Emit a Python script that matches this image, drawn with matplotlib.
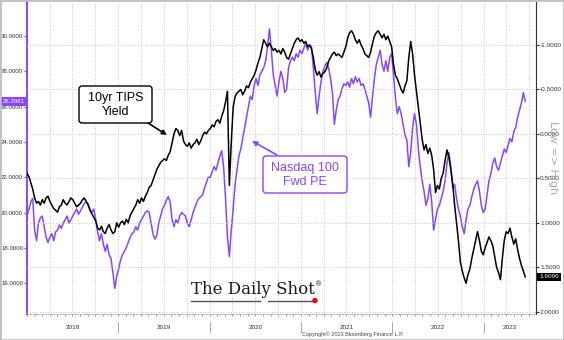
import matplotlib
matplotlib.use('Agg')
import matplotlib.pyplot as plt
import matplotlib.dates as mdates
import matplotlib.transforms as mtransforms
from matplotlib.patches import FancyBboxPatch, Rectangle, Circle, FancyArrowPatch
from matplotlib.lines import Line2D
import numpy as np
import pandas as pd

# ---------------- data (roughly weekly, 4 points per month) ----------------
tips_yield = [
    # 2018
    0.44, 0.48, 0.55, 0.62, 0.72, 0.78, 0.76, 0.80, 0.74, 0.78, 0.72, 0.70,
    0.76, 0.80, 0.84, 0.86, 0.88, 0.82, 0.80, 0.74, 0.78, 0.80, 0.76, 0.72,
    0.74, 0.78, 0.82, 0.80, 0.78, 0.74, 0.72, 0.76, 0.80, 0.86, 0.90, 0.94,
    0.98, 1.06, 1.08, 1.04, 1.10, 1.12, 1.06, 1.02, 1.08, 1.12, 1.10, 1.00,
    # 2019
    1.05, 1.00, 0.98, 1.02, 0.96, 1.00, 0.92, 0.88, 0.84, 0.80, 0.74, 0.78,
    0.72, 0.76, 0.70, 0.66, 0.60, 0.58, 0.52, 0.46, 0.40, 0.36, 0.32, 0.30,
    0.28, 0.30, 0.24, 0.20, 0.10, 0.00, -0.06, -0.04, 0.02, -0.04, 0.08, 0.12,
    0.14, 0.10, 0.16, 0.12, 0.10, 0.06, 0.12, 0.08, 0.02, -0.02, 0.00, -0.04,
    # 2020
    -0.06, -0.10, -0.08, -0.14, -0.16, -0.12, -0.20, -0.26, -0.36, -0.48, 0.58, 0.10,
    -0.30, -0.42, -0.46, -0.48, -0.50, -0.44, -0.48, -0.54, -0.52, -0.58, -0.62, -0.66,
    -0.72, -0.80, -0.86, -0.96, -1.06, -1.02, -0.98, -1.02, -0.98, -0.94, -0.96, -0.92,
    -0.94, -0.90, -0.96, -0.92, -0.86, -0.84, -0.90, -0.96, -1.02, -1.06, -1.08, -1.04,
    # 2021
    -1.06, -1.02, -1.04, -0.98, -1.00, -0.96, -0.86, -0.72, -0.66, -0.70, -0.64, -0.68,
    -0.70, -0.74, -0.82, -0.86, -0.90, -0.92, -0.88, -0.90, -0.88, -0.86, -0.92, -0.98,
    -1.08, -1.14, -1.16, -1.12, -1.06, -1.02, -1.06, -1.00, -0.96, -0.90, -0.88, -0.86,
    -0.92, -1.02, -1.10, -1.14, -1.16, -1.12, -1.08, -1.12, -1.06, -1.10, -1.04, -0.98,
    # 2022
    -0.78, -0.66, -0.62, -0.56, -0.50, -0.46, -0.54, -0.60, -0.86, -1.04, -0.90, -0.66,
    -0.48, -0.30, -0.12, 0.06, 0.18, 0.12, 0.22, 0.16, 0.24, 0.40, 0.66, 0.58,
    0.62, 0.50, 0.44, 0.30, 0.18, 0.26, 0.40, 0.56, 0.80, 1.00, 1.20, 1.44,
    1.54, 1.62, 1.68, 1.58, 1.52, 1.40, 1.30, 1.20, 1.10, 1.20, 1.32, 1.36,
    # 2023
    1.28, 1.22, 1.16, 1.20, 1.26, 1.38, 1.50, 1.56, 1.64, 1.40, 1.20, 1.10,
    1.12, 1.06, 1.16, 1.24, 1.18, 1.30, 1.40, 1.48, 1.54, 1.6096,
]

nasdaq_pe = [
    # 2018
    19.8, 20.2, 20.6, 20.8, 19.0, 18.4, 19.4, 19.7, 19.8, 19.2, 18.6, 18.3,
    18.6, 18.8, 18.4, 18.9, 19.0, 19.3, 19.1, 19.4, 19.6, 19.8, 19.4, 19.6,
    19.8, 20.0, 20.2, 19.9, 20.1, 20.3, 20.5, 20.6, 20.5, 20.2, 20.0, 20.2,
    19.6, 18.9, 18.4, 18.8, 18.2, 17.8, 18.2, 17.6, 17.4, 16.6, 15.7, 16.4,
    # 2019
    16.8, 17.3, 17.6, 17.8, 18.0, 18.3, 18.6, 18.8, 18.9, 19.2, 19.0, 19.4,
    19.6, 19.8, 20.0, 20.1, 20.0, 19.4, 18.8, 18.5, 18.7, 19.4, 19.8, 20.2,
    20.4, 20.7, 20.9, 20.6, 19.6, 19.2, 19.6, 19.4, 19.8, 20.0, 19.9, 19.8,
    19.4, 19.2, 19.6, 20.0, 20.3, 20.6, 20.8, 20.9, 21.0, 21.4, 21.7, 22.0,
    # 2020
    22.0, 22.3, 22.6, 22.4, 22.8, 23.2, 23.5, 22.6, 20.8, 18.6, 17.5, 19.0,
    20.2, 21.6, 22.4, 23.2, 23.6, 24.2, 24.8, 25.4, 26.0, 26.6, 26.4, 27.2,
    27.6, 27.2, 27.8, 28.0, 28.2, 28.6, 29.4, 30.4, 29.2, 27.8, 27.2, 26.6,
    27.4, 28.0, 27.6, 26.8, 27.0, 28.2, 28.6, 28.8, 28.6, 29.0, 28.8, 29.2,
    # 2021
    29.0, 29.3, 29.6, 29.2, 29.5, 29.4, 28.2, 26.8, 25.6, 26.6, 27.4, 28.0,
    28.3, 28.5, 28.2, 27.6, 26.8, 25.0, 25.8, 26.4, 26.6, 27.0, 27.3, 27.2,
    27.4, 27.1, 27.6, 27.3, 27.7, 27.4, 27.6, 27.2, 27.3, 27.0, 26.6, 26.2,
    25.4, 26.6, 27.6, 28.4, 28.8, 29.2, 28.4, 28.0, 28.6, 28.0, 28.8, 29.0,
    # 2022
    27.8, 26.5, 25.6, 26.0, 25.6, 25.0, 24.4, 24.1, 22.6, 23.4, 24.8, 25.6,
    25.0, 23.6, 22.6, 21.8, 21.2, 20.4, 20.8, 21.6, 20.6, 19.0, 19.6, 20.2,
    20.4, 20.8, 21.2, 21.8, 22.8, 23.4, 22.6, 21.4, 21.6, 20.8, 20.2, 19.8,
    19.2, 18.8, 19.6, 20.2, 20.4, 20.9, 21.3, 21.6, 21.8, 21.2, 20.4, 20.0,
    # 2023
    20.2, 21.0, 21.8, 22.2, 22.8, 23.1, 22.6, 22.4, 22.8, 23.2, 23.6, 23.4,
    23.8, 24.2, 24.0, 24.6, 24.8, 25.4, 25.8, 26.2, 26.8, 26.2961,
]

start_date = '2018-01-01'
end_date = '2023-06-16'
x_end = '2023-07-29'
years = [2018, 2019, 2020, 2021, 2022, 2023]
left_ticks = [16, 18, 20, 22, 24, 26, 28, 30]
right_ticks = [-1.0, -0.5, 0.0, 0.5, 1.0, 1.5, 2.0]
pe_last_label = '26.2961'
tips_last_label = '1.6096'

PURPLE = '#8B45FF'
W, H = 564, 340

plt.rcParams['font.family'] = ['DejaVu Sans']

dates = pd.date_range(start_date, end_date, periods=len(tips_yield))

fig = plt.figure(figsize=(W / 100, H / 100), dpi=100)
fig.patch.set_facecolor('white')


def fx(px):
    return px / W


def fy(py):
    return 1 - py / H


ax = fig.add_axes([fx(27), fy(314), fx(536) - fx(27), fy(2) - fy(314)])
ax2 = ax.twinx()

ax.plot(dates, nasdaq_pe, color=PURPLE, lw=1.1, zorder=3)
ax2.plot(dates, tips_yield, color='black', lw=1.1, zorder=3)

ax.set_xlim(pd.Timestamp(start_date), pd.Timestamp(x_end))
ax.set_ylim(14.25, 31.93)
ax2.set_ylim(2.026, -1.484)

# y ticks
ax.set_yticks(left_ticks)
ax.set_yticklabels([f'{v:.4f}' for v in left_ticks], family='Liberation Sans')
ax2.set_yticks(right_ticks)
ax2.set_yticklabels([f'{v:.4f}' for v in right_ticks], family='Liberation Sans')
ax.tick_params(axis='y', length=2, width=1.0, color=PURPLE, labelcolor='#333333',
               labelsize=4.4, pad=0.8)
ax2.tick_params(axis='y', length=2, width=0.8, color='#333333', labelcolor='#333333',
                labelsize=4.6, pad=1)

# x ticks / grid
ax.xaxis.set_major_locator(mdates.MonthLocator(bymonth=[1, 4, 7, 10]))
ax.xaxis.set_minor_locator(mdates.MonthLocator())
ax.tick_params(axis='x', which='both', length=1.5, width=0.6, color='#888888',
               labelbottom=False)
ax.grid(axis='x', which='major', ls=':', color='#c4c4c4', lw=0.7)
ax2.grid(axis='y', ls=':', color='#c4c4c4', lw=0.7)
ax.set_axisbelow(True)
ax2.set_axisbelow(True)

# spines
for s in ['top', 'right']:
    ax.spines[s].set_visible(False)
ax.spines['left'].set_color(PURPLE)
ax.spines['left'].set_linewidth(1.4)
ax.spines['bottom'].set_color('#b0b0b0')
ax.spines['bottom'].set_linestyle(':')
ax.spines['bottom'].set_linewidth(0.8)
for s in ['top', 'left', 'bottom']:
    ax2.spines[s].set_visible(False)
ax2.spines['right'].set_color('#333333')
ax2.spines['right'].set_linewidth(0.8)

# year labels and separators
blend = mtransforms.blended_transform_factory(ax.transData, ax.transAxes)
x0 = pd.Timestamp(start_date)
x1 = pd.Timestamp(x_end)
for yr in years:
    s = max(pd.Timestamp(f'{yr}-01-01'), x0)
    e = min(pd.Timestamp(f'{yr + 1}-01-01'), x1)
    mid = s + (e - s) / 2
    ax.text(mid, -0.042, str(yr), transform=blend, ha='center', va='center',
            fontsize=4.6, family='Liberation Sans', color='#333333', clip_on=False)
    if yr > years[0]:
        ax.plot([pd.Timestamp(f'{yr}-01-01')] * 2, [-0.026, -0.058], transform=blend,
                color='#999999', lw=0.6, clip_on=False)

fig.text(fx(353), fy(334.5), 'Copyright© 2023 Bloomberg Finance L.P.', fontsize=4.0,
         family='Liberation Sans', ha='center', va='center', color='#444444')
fig.text(fx(553), fy(158), 'Low => High', rotation=270, fontsize=8, color='#aaaaaa',
         ha='center', va='center', zorder=0)

# last value tags
bl_left = mtransforms.blended_transform_factory(ax.transAxes, ax.transData)
ax.text(-0.0265, nasdaq_pe[-1], pe_last_label, transform=bl_left, ha='center', va='center',
        fontsize=4.4, family='Liberation Sans', color='white', clip_on=False, zorder=10,
        bbox=dict(boxstyle='square,pad=0.3', fc=PURPLE, ec='none'))
bl_right = mtransforms.blended_transform_factory(ax2.transAxes, ax2.transData)
ax2.text(1.0255, tips_yield[-1], tips_last_label, transform=bl_right, ha='center', va='center',
         fontsize=4.6, family='Liberation Sans', color='white', clip_on=False, zorder=10,
         bbox=dict(boxstyle='square,pad=0.3', fc='black', ec='none'))

# annotation boxes (pixel coordinates)
ident = mtransforms.IdentityTransform()


def pbox(x0p, y0p, x1p, y1p, ec):
    p = FancyBboxPatch((x0p, H - y1p), x1p - x0p, y1p - y0p,
                       boxstyle='round,pad=0,rounding_size=3', transform=ident,
                       fc='white', ec=ec, lw=1.0, zorder=20)
    fig.add_artist(p)


pbox(79, 86, 152, 123, 'black')
fig.text(fx(115.5), fy(105), '10yr TIPS\nYield', ha='center', va='center', fontsize=9,
         family='Liberation Sans', color='black', linespacing=1.15, zorder=21)
fig.add_artist(FancyArrowPatch((148, H - 123), (167, H - 135), arrowstyle='-|>',
                               mutation_scale=7, lw=1.2, color='black', transform=ident,
                               shrinkA=0, shrinkB=0, zorder=21))

pbox(263, 156, 347, 193, PURPLE)
fig.text(fx(305), fy(175), 'Nasdaq 100\nFwd PE', ha='center', va='center', fontsize=9,
         family='Liberation Sans', color=PURPLE, linespacing=1.15, zorder=21)
fig.add_artist(FancyArrowPatch((277, H - 155), (252, H - 141), arrowstyle='-|>',
                               mutation_scale=7, lw=1.2, color=PURPLE, transform=ident,
                               shrinkA=0, shrinkB=0, zorder=21))

# logo
fig.text(fx(191), fy(293.5), 'The Daily Shot', family='DejaVu Serif', fontsize=12,
         ha='left', va='baseline', color='#1a1a1a', zorder=21)
fig.text(fx(319), fy(284), '®', fontsize=5, ha='center', va='center', color='#1a1a1a')
fig.add_artist(Line2D([191, 260], [H - 300.5, H - 300.5], transform=ident, color='#555555', lw=1.0))
fig.add_artist(Line2D([268, 315], [H - 300.5, H - 300.5], transform=ident, color='#555555', lw=1.0))
fig.add_artist(Circle((315, H - 300.5), 2.0, transform=ident, color='red', zorder=22))

# figure frame
fig.add_artist(Rectangle((0, 0), 1, 1, transform=fig.transFigure, fill=False,
                         ec='#c0c0c0', lw=2))

fig.savefig('out.png', dpi=100)
